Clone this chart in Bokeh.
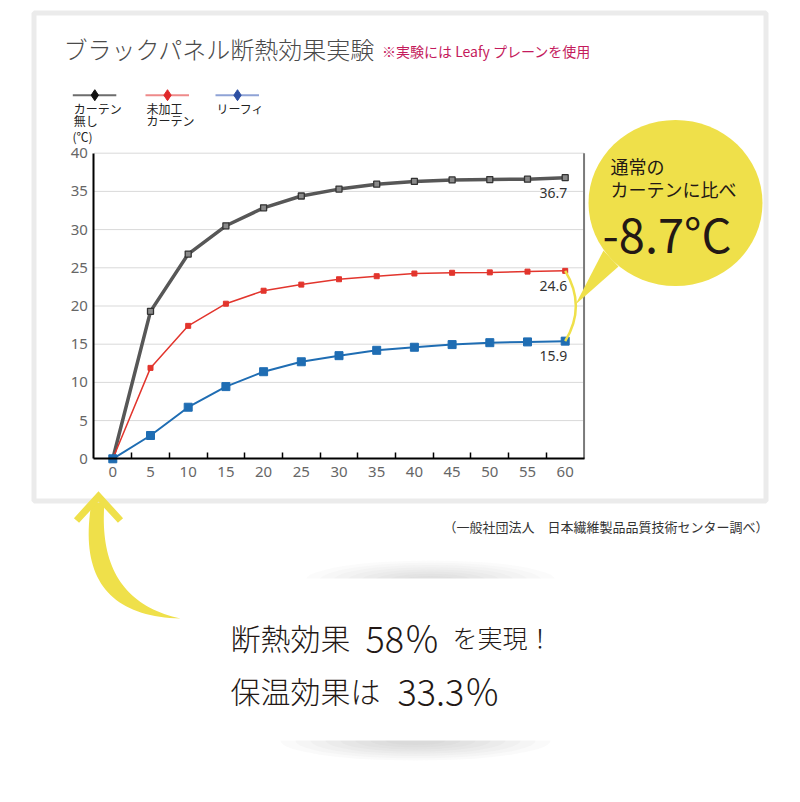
import numpy as np
from bokeh.plotting import figure
from bokeh.models import Range1d, LinearAxis, FixedTicker
from bokeh.core.properties import value
from bokeh.embed import file_html
from bokeh.resources import INLINE

# ---------------- data ----------------
minutes = [0, 5, 10, 15, 20, 25, 30, 35, 40, 45, 50, 55, 60]
no_curtain = [0, 19.3, 26.8, 30.5, 32.85, 34.4, 35.3, 35.95, 36.3, 36.5, 36.55, 36.6, 36.8]
plain_curtain = [0, 11.9, 17.4, 20.3, 22.0, 22.8, 23.5, 23.9, 24.25, 24.35, 24.4, 24.5, 24.6]
leafy = [0, 3.05, 6.75, 9.45, 11.4, 12.7, 13.5, 14.2, 14.6, 14.95, 15.2, 15.3, 15.4]
series_names = [["カーテン", "無し"], ["未加工", "カーテン"], ["リーフィ"]]
end_labels = ["36.7", "24.6", "15.9"]
x_ticks = [0, 5, 10, 15, 20, 25, 30, 35, 40, 45, 50, 55, 60]
y_ticks = [0, 5, 10, 15, 20, 25, 30, 35, 40]
title_text = "ブラックパネル断熱効果実験"
subtitle_text = "※実験には Leafy プレーンを使用"
unit_text = "(℃)"
callout_lines = ["通常の", "カーテンに比べ"]
callout_value = "-8.7°C"
source_text = "（一般社団法人　日本繊維製品品質技術センター調べ）"
line1_parts = ["断熱効果", "58％", "を実現！"]
line2_parts = ["保温効果は", "33.3％"]

# ---------------- layout constants (page pixels) ----------------
W, H = 784, 786
OFF = 0
X0, SX = 112.3, 7.54   # page x of minute 0, px per minute
Y0, SY = 458.3, 7.64   # page y of 0 ℃, px per degree


def X(px):
    return (px - X0) / SX


def Y(py):
    return (Y0 - py) / SY


JP = value("Noto Sans CJK JP")
JPL = value("Noto Sans CJK JP Light, Noto Sans CJK JP")
YELLOW = "#efe04a"

p = figure(width=W, height=H,
           x_range=Range1d(X(OFF), X(OFF + W)), y_range=Range1d(Y(OFF + H), Y(OFF)),
           x_axis_type=None, y_axis_type=None, output_backend="svg",
           toolbar_location=None, min_border=0, outline_line_color=None,
           background_fill_color="white", border_fill_color="white")

# outer frame box
p.quad(left=[X(33.5)], right=[X(765.5)], top=[Y(12.5)], bottom=[Y(500.5)],
       fill_color=None, line_color="#ebebeb", line_width=5)

# titles
p.text(x=[X(63)], y=[Y(47.5)], text=[title_text], text_font=JPL, text_font_size="24px",
       text_color="#4a4a4a", text_baseline="middle", text_align="left")
p.text(x=[X(381.5)], y=[Y(50)], text=[subtitle_text], text_font=JP, text_font_size="14px",
       text_color="#c41a5c", text_baseline="middle", text_align="left")

# legend (custom: line + diamond with label below)
leg_colors_line = ["#6d6d6d", "#ee8a8a", "#8fa3d6"]
leg_colors_mark = ["#111111", "#e0282a", "#2d4fa3"]
leg_left = [72.3, 145.0, 215.0]
for name, lc, mc, lx in zip(series_names, leg_colors_line, leg_colors_mark, leg_left):
    p.line([X(lx), X(lx + 43.5)], [Y(94.7), Y(94.7)], line_color=lc, line_width=2)
    p.scatter([X(lx + 22)], [Y(94.7)], marker="diamond", size=11, fill_color=mc, line_color=mc)
    p.text(x=[X(lx + 1)] * len(name), y=[Y(108 + 11.5 * i) for i in range(len(name))],
           text=name, text_font=JP, text_font_size="12px",
           text_color="#222222", text_baseline="middle", text_align="left")
p.text(x=[X(72)], y=[Y(136)], text=[unit_text], text_font=JP, text_font_size="12px",
       text_color="#222222", text_baseline="middle", text_align="left")

# grid lines and right border
xa, xb = x_ticks[0] - 2.5, x_ticks[-1] + 2.5
p.segment(x0=[xa] * (len(y_ticks) - 1), x1=[xb] * (len(y_ticks) - 1),
          y0=y_ticks[1:], y1=y_ticks[1:], line_color="#d9d9d9", line_width=1)
p.segment(x0=[xb], x1=[xb], y0=[y_ticks[0]], y1=[y_ticks[-1]], line_color="#7a7a7a", line_width=2)

# series
p.line(minutes, no_curtain, line_color="#575757", line_width=3.5)
p.scatter(minutes, no_curtain, marker="square", size=6, fill_color="#8a8a8a", line_color="#333333",
          line_width=1.3)
p.line(minutes, plain_curtain, line_color="#e2352d", line_width=1.5)
p.scatter(minutes, plain_curtain, marker="square", size=5, fill_color="#e2352d", line_color="#e2352d")
p.line(minutes, leafy, line_color="#1f6db3", line_width=2)
p.scatter(minutes, leafy, marker="square", size=8, fill_color="#1f6db3", line_color="#1f6db3")

# end labels
p.text(x=[minutes[-1]] * 3, y=[no_curtain[-1], plain_curtain[-1], leafy[-1]], text=end_labels,
       text_font=value("Noto Sans"), text_font_size="14px", text_color="#333333",
       text_align="right", text_baseline="middle", x_offset=2, y_offset=15)

# axes
xaxis = LinearAxis(fixed_location=0, bounds=(xa, xb),
                   ticker=FixedTicker(ticks=x_ticks, minor_ticks=[t + 2.5 for t in x_ticks[:-1]]),
                   axis_line_color="black", axis_line_width=2,
                   major_tick_line_color=None, major_tick_in=0, major_tick_out=0,
                   minor_tick_line_color="black", minor_tick_line_width=1.5,
                   minor_tick_in=6, minor_tick_out=0,
                   major_label_standoff=8, major_label_text_font_size="15px",
                   major_label_text_color="#666666", major_label_text_font="Noto Sans")
p.add_layout(xaxis, "below")
yaxis = LinearAxis(fixed_location=xa, bounds=(y_ticks[0], y_ticks[-1]),
                   ticker=FixedTicker(ticks=y_ticks),
                   axis_line_color="black", axis_line_width=2,
                   major_tick_line_color=None, major_tick_in=0, major_tick_out=0,
                   minor_tick_line_color=None,
                   major_label_standoff=6, major_label_text_font_size="15px",
                   major_label_text_color="#666666", major_label_text_font="Noto Sans")
p.add_layout(yaxis, "left")

# bracket between red and blue end values
p.quadratic(x0=[minutes[-1]], y0=[plain_curtain[-1]], x1=[minutes[-1]], y1=[leafy[-1]],
            cx=[X(586)], cy=[(plain_curtain[-1] + leafy[-1]) / 2],
            line_color=YELLOW, line_width=2.5)

# callout bubble
p.patch([X(603), X(618), X(575)], [Y(250), Y(266), Y(304)], fill_color=YELLOW, line_color=None)
p.ellipse(x=[X(675)], y=[Y(202.5)], width=[174 / SX], height=[166 / SY],
          fill_color=YELLOW, line_color=None)
p.text(x=[X(610), X(610)], y=[Y(165), Y(188)], text=callout_lines, text_font=JP,
       text_font_size="18px", text_color="#231815", text_baseline="middle", text_align="left")
p.text(x=[X(602)], y=[Y(232)], text=[callout_value], text_font=JP, text_font_size="47px",
       text_color="#231815", text_baseline="middle", text_align="left")

# source note
p.text(x=[X(768)], y=[Y(526)], text=[source_text], text_font=JP, text_font_size="13px",
       text_color="#333333", text_baseline="middle", text_align="right")

# curved arrow
t = np.linspace(0, 1, 40)


def qb(p0, p1, p2):
    return ((1 - t) ** 2 * p0 + 2 * (1 - t) * t * p1 + t ** 2 * p2)


lx_ = qb(91, 72, 180); ly_ = qb(502, 615, 618)
rx_ = qb(104, 96, 180); ry_ = qb(502, 600, 618)
cx_ = np.concatenate([lx_, rx_[::-1]]); cy_ = np.concatenate([ly_, ry_[::-1]])
p.patch(X(cx_), Y(cy_), fill_color=YELLOW, line_color=None)
p.line([X(76), X(98), X(120)], [Y(520), Y(496), Y(520)], line_color=YELLOW, line_width=7,
       line_join="miter")

# soft shadows around the bottom card
for k in range(8):
    f = 1 - k / 9
    p.ellipse(x=[X(430)], y=[Y(580)], width=[250 * f / SX], height=[40 * f / SY],
              fill_color="#888888", fill_alpha=0.035, line_color=None)
    p.ellipse(x=[X(415)], y=[Y(740)], width=[270 * f / SX], height=[40 * f / SY],
              fill_color="#888888", fill_alpha=0.045, line_color=None)
p.quad(left=[X(200)], right=[X(650)], top=[Y(578)], bottom=[Y(740)], fill_color="white",
       line_color=None)

# bottom message
p.text(x=[X(230), X(365), X(452)], y=[Y(636)] * 3, text=line1_parts, text_font=JPL,
       text_font_size=["30px", "36px", "25px"], text_color="#231815",
       text_baseline="middle", text_align="left")
p.text(x=[X(230), X(397)], y=[Y(689)] * 2, text=line2_parts, text_font=JPL,
       text_font_size=["30px", "36px"], text_color="#231815",
       text_baseline="middle", text_align="left")

open("out.html", "w").write(file_html(p, INLINE))
